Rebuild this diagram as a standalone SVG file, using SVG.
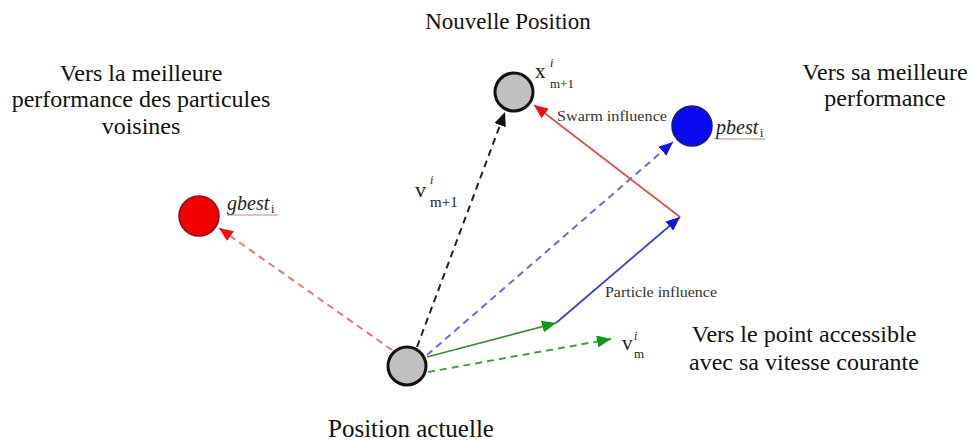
<svg xmlns="http://www.w3.org/2000/svg" width="971" height="441" viewBox="0 0 971 441">
<defs>
<style>
text{font-family:'Liberation Serif','DejaVu Serif',serif}
.lbl{font-size:24px;fill:#111;text-anchor:middle}
.sm{font-size:15px;fill:#333}
.var{font-size:21px;fill:#222}
.sup{font-size:12px;font-style:italic;fill:#222}
.sub{font-size:13px;fill:#222}
.best{font-size:20px;font-style:italic;fill:#222}
.gray{fill:#c0c0c0;stroke:#111;stroke-width:3}
.dash{fill:none;stroke-width:2;stroke-dasharray:7 5}
.solid{fill:none;stroke-width:1.8}
.ul{stroke:#b89080;stroke-width:1.2}
</style>
<marker id="aRed" markerUnits="userSpaceOnUse" markerWidth="14" markerHeight="12" refX="14" refY="6" orient="auto"><path d="M0,0 L14,6 L0,12 z" fill="#f01010"/></marker>
<marker id="aBlack" markerUnits="userSpaceOnUse" markerWidth="14" markerHeight="12" refX="14" refY="6" orient="auto"><path d="M0,0 L14,6 L0,12 z" fill="#111"/></marker>
<marker id="aBlue" markerUnits="userSpaceOnUse" markerWidth="14" markerHeight="12" refX="14" refY="6" orient="auto"><path d="M0,0 L14,6 L0,12 z" fill="#1414e0"/></marker>
<marker id="aGreen" markerUnits="userSpaceOnUse" markerWidth="14" markerHeight="12" refX="14" refY="6" orient="auto"><path d="M0,0 L14,6 L0,12 z" fill="#109a10"/></marker>
</defs>
<rect width="971" height="441" fill="#fff"/>

<g id="connectors">
<path class="dash" d="M392,350 L219,228" stroke="#e87878" marker-end="url(#aRed)"/>
<path class="dash" d="M417,347 L505,112" stroke="#222" marker-end="url(#aBlack)"/>
<path class="dash" d="M427,355 L673,142" stroke="#6a6ae0" marker-end="url(#aBlue)"/>
<path class="dash" d="M428,372 L611,339" stroke="#4a9a4a" marker-end="url(#aGreen)"/>
<path class="solid" d="M427,357 L556,323" stroke="#3a8a3a" marker-end="url(#aGreen)"/>
<path class="solid" d="M556,323 L680,217" stroke="#4040d0" marker-end="url(#aBlue)"/>
<path class="solid" d="M680,217 L534,105" stroke="#e05050" marker-end="url(#aRed)"/>
<text class="sm" x="557" y="121" textLength="110" lengthAdjust="spacingAndGlyphs">Swarm influence</text>
<text class="sm" x="605" y="297" textLength="112" lengthAdjust="spacingAndGlyphs">Particle influence</text>
<text class="var" x="415" y="197" style="font-size:22px">v</text><text class="sup" x="430" y="184">i</text><text class="sub" x="430" y="207" style="font-size:15px">m+1</text>
<text class="var" x="622" y="350">v</text><text class="sup" x="634" y="340">i</text><text class="sub" x="634" y="358">m</text>
</g>

<g id="current">
<circle class="gray" cx="407" cy="366" r="19"/>
<text class="lbl" x="411" y="437" style="font-size:25px">Position actuelle</text>
</g>

<g id="new">
<circle class="gray" cx="514" cy="92" r="19"/>
<text class="var" x="535" y="78">x</text><text class="sup" x="550" y="67">i</text><text class="sub" x="550" y="88">m+1</text>
<text class="lbl" x="508" y="29" style="font-size:23px">Nouvelle Position</text>
</g>

<g id="pbest">
<circle cx="692" cy="126" r="20" fill="#0a0af0" stroke="#1a1a80" stroke-width="1.5"/>
<text class="best" x="716" y="134">pbest</text><text class="sub" x="760" y="137" style="font-size:12px">i</text>
<line class="ul" x1="716" y1="139" x2="765" y2="139"/>
<text class="lbl" x="885" y="80">Vers sa meilleure</text>
<text class="lbl" x="885" y="106">performance</text>
</g>

<g id="gbest">
<circle cx="199" cy="216" r="20" fill="#f20000" stroke="#8b1010" stroke-width="1.5"/>
<text class="best" x="227" y="210">gbest</text><text class="sub" x="271" y="213" style="font-size:12px">i</text>
<line class="ul" x1="227" y1="215" x2="278" y2="215"/>
<text class="lbl" x="141" y="81">Vers la meilleure</text>
<text class="lbl" x="141" y="107">performance des particules</text>
<text class="lbl" x="141" y="134">voisines</text>
</g>

<g id="vm">
<text class="lbl" x="804" y="342">Vers le point accessible</text>
<text class="lbl" x="804" y="370">avec sa vitesse courante</text>
</g>
</svg>
